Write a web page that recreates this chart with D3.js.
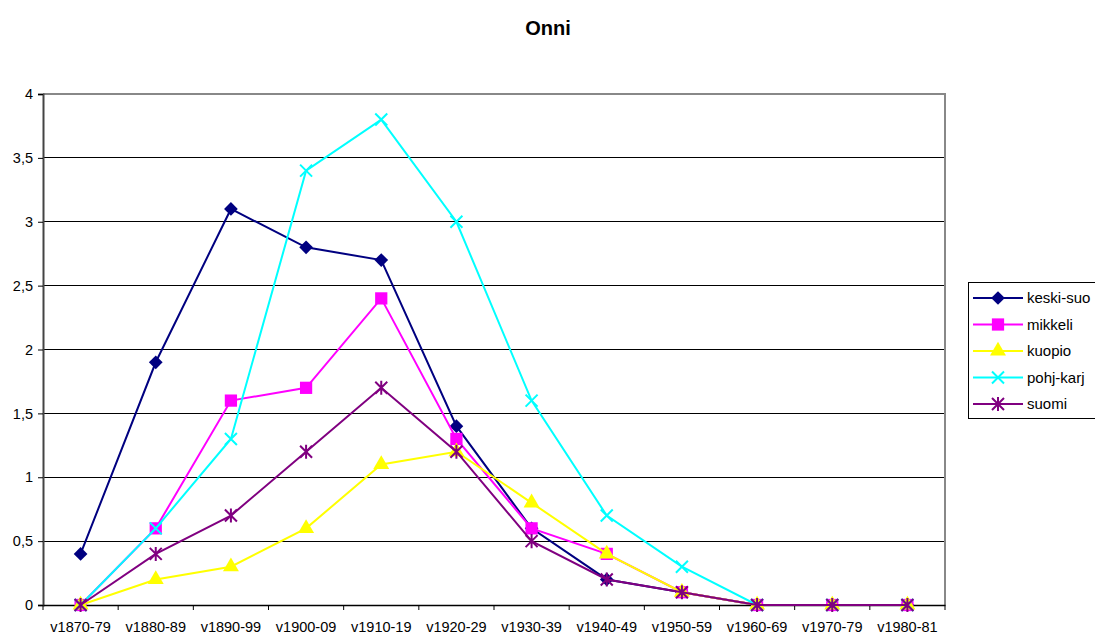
<!DOCTYPE html>
<html><head><meta charset="utf-8">
<script src="https://cdn.jsdelivr.net/npm/d3@7"></script>
<style>body{margin:0;background:#fff;font-family:"Liberation Sans",Arial,sans-serif}</style>
</head><body>
<svg id="c" width="1095" height="635"></svg>
<script>
const categories = ["v1870-79","v1880-89","v1890-99","v1900-09","v1910-19","v1920-29","v1930-39","v1940-49","v1950-59","v1960-69","v1970-79","v1980-81"];
const keskiSuo = [0.4,1.9,3.1,2.8,2.7,1.4,0.6,0.2,0.1,0,0,0];
const mikkeli  = [0,0.6,1.6,1.7,2.4,1.3,0.6,0.4,0.1,0,0,0];
const kuopio   = [0,0.2,0.3,0.6,1.1,1.2,0.8,0.4,0.1,0,0,0];
const pohjKarj = [0,0.6,1.3,3.4,3.8,3.0,1.6,0.7,0.3,0,0,0];
const suomi    = [0,0.4,0.7,1.2,1.7,1.2,0.5,0.2,0.1,0,0,0];
const yTicks = [0,0.5,1,1.5,2,2.5,3,3.5,4];
const seriesNames = ["keski-suo","mikkeli","kuopio","pohj-karj","suomi"];

const series = [
  {name:seriesNames[0], values:keskiSuo, color:"#000080", marker:"diamond"},
  {name:seriesNames[1], values:mikkeli,  color:"#FF00FF", marker:"square"},
  {name:seriesNames[2], values:kuopio,   color:"#FFFF00", marker:"triangle"},
  {name:seriesNames[3], values:pohjKarj, color:"#00FFFF", marker:"x"},
  {name:seriesNames[4], values:suomi,    color:"#800080", marker:"star"}
];

const svg = d3.select("#c");
const L=43, R=945, T=94, B=605;
const x = d3.scaleBand().domain(categories).range([L,R]);
const y = d3.scaleLinear().domain([0,4]).range([B,T]);

svg.append("text").attr("x",548).attr("y",35).attr("text-anchor","middle")
  .attr("font-size",20).attr("font-weight","bold").text("Onni");

// gridlines
svg.append("g").selectAll("line").data(yTicks.filter(d=>d>0 && d<4)).join("line")
  .attr("x1",L).attr("x2",R).attr("y1",d=>y(d)).attr("y2",d=>y(d))
  .attr("stroke","#000").attr("stroke-width",1).attr("shape-rendering","crispEdges");
// plot border top/right gray
svg.append("path").attr("d",`M${L},${T}H${R}V${B}`).attr("fill","none")
  .attr("stroke","#888").attr("stroke-width",2).attr("shape-rendering","crispEdges");

// axes
const yAxis = d3.axisLeft(y).tickValues(yTicks).tickSize(5).tickPadding(5)
  .tickFormat(d=>String(d).replace(".",","));
const gy = svg.append("g").attr("transform",`translate(${L},0)`).call(yAxis);
gy.select(".domain").attr("stroke","#444").attr("stroke-width",2);
gy.selectAll("text").attr("font-size",14.5).attr("font-family","Liberation Sans, Arial, sans-serif").attr("fill","#000");

const xAxis = d3.axisBottom(x).tickSize(0).tickPadding(17);
const gx = svg.append("g").attr("transform",`translate(0,${B})`).call(xAxis);
gx.select(".domain").attr("stroke","#000").attr("stroke-width",1.5);
gx.selectAll("text").attr("font-size",14.5).attr("font-family","Liberation Sans, Arial, sans-serif").attr("fill","#000");
// tick marks between categories
const bounds = categories.map(c=>x(c)).concat([R]);
svg.append("g").selectAll("line").data(bounds).join("line")
  .attr("x1",d=>d).attr("x2",d=>d).attr("y1",B).attr("y2",B+5).attr("stroke","#000");

function sym(m){
  if(m==="diamond") return d3.symbol(d3.symbolDiamond2,120)();
  if(m==="square") return d3.symbol(d3.symbolSquare,150)();
  if(m==="triangle") return d3.symbol(d3.symbolTriangle,110)();
  if(m==="x") return "M-6,-6L6,6M-6,6L6,-6";
  return "M-6,-6L6,6M-6,6L6,-6M0,-7V7";
}
function drawMarker(g,m,color){
  const p = g.append("path").attr("d",sym(m));
  if(m==="x"||m==="star") p.attr("fill","none").attr("stroke",color).attr("stroke-width",2);
  else p.attr("fill",color).attr("stroke","none");
}

const line = d3.line().x((d,i)=>x(categories[i])+x.bandwidth()/2).y(d=>y(d));
series.forEach(s=>{
  svg.append("path").datum(s.values).attr("d",line).attr("fill","none")
    .attr("stroke",s.color).attr("stroke-width",2);
  s.values.forEach((v,i)=>{
    const g = svg.append("g").attr("transform",`translate(${x(categories[i])+x.bandwidth()/2},${y(v)})`);
    drawMarker(g,s.marker,s.color);
  });
});

// legend
const lg = svg.append("g");
lg.append("rect").attr("x",968.5).attr("y",282.5).attr("width",130).attr("height",136)
  .attr("fill","#fff").attr("stroke","#000");
series.forEach((s,i)=>{
  const yy = 298 + i*26.5;
  lg.append("line").attr("x1",973).attr("x2",1023).attr("y1",yy).attr("y2",yy).attr("stroke",s.color).attr("stroke-width",2);
  const g = lg.append("g").attr("transform",`translate(998,${yy})`);
  drawMarker(g,s.marker,s.color);
  lg.append("text").attr("x",1027).attr("y",yy+5).attr("font-size",15).text(s.name);
});
</script>
</body></html>
